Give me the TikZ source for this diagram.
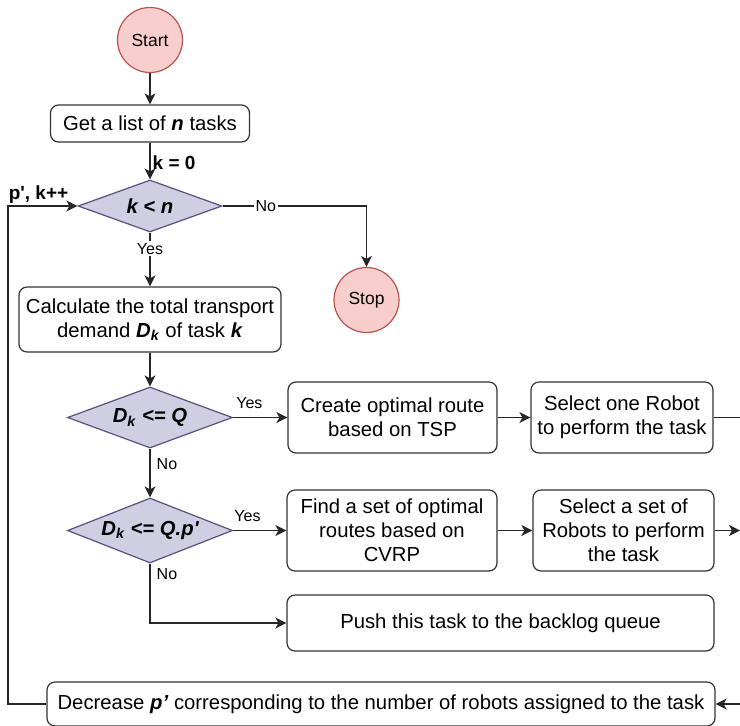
\documentclass[tikz,border=0pt]{standalone}
\usepackage{fontspec}
\setmainfont{Liberation Sans}
\usetikzlibrary{shapes.geometric,arrows.meta}

\definecolor{termfill}{HTML}{F8CECC}
\definecolor{termdraw}{HTML}{B85450}
\definecolor{decfill}{HTML}{D0CEE2}
\definecolor{decdraw}{HTML}{56517E}

\begin{document}
\begin{tikzpicture}[
  x = 0.5pt, y = -0.5pt,
  every node/.style = {font = \fontsize{10.15}{12}\selectfont},
  terminal/.style = {circle, draw = termdraw, fill = termfill, line width = 0.6pt,
                     minimum size = 32.5pt, inner sep = 0pt, font = \fontsize{8.75}{10}\selectfont},
  process/.style = {draw = black!80, rounded corners = 4pt, line width = 0.6pt,
                    align = center, inner sep = 0pt},
  decision/.style = {diamond, aspect = 2.6, draw = decdraw, fill = decfill, line width = 0.6pt,
                     inner sep = 0pt, font = \fontsize{10.15}{12}\selectfont\bfseries\itshape},
  flow/.style = {draw = black!85, line width = 0.7pt,
                 -{Stealth[length = 5.5pt, width = 5.5pt, inset = 1.5pt]}},
  answer/.style = {font = \fontsize{8}{9}\selectfont, inner sep = 1pt},
  counter/.style = {font = \fontsize{9.5}{11}\selectfont\bfseries, inner sep = 1pt},
  ]
  \useasboundingbox (0, 0) rectangle (740, 725);

  \node[terminal] (start) at (150, 40) {Start};
  \node[process, minimum width = 99.5pt, minimum height = 18.5pt] (tasks) at (150, 123.5)
    {Get a list of \textbf{\textit{n}} tasks};
  \node[decision, minimum width = 72pt, minimum height = 26pt] (kn) at (150, 206) {k < n};
  \node[terminal] (stop) at (366.5, 300) {Stop};
  \node[process, minimum width = 131pt, minimum height = 32.5pt] (demand) at (150, 319.5)
    {Calculate the total transport\\demand \textbf{\textit{D\textsubscript{k}}} of task \textbf{\textit{k}}};
  \node[decision, minimum width = 82.5pt, minimum height = 30.5pt] (small) at (150, 417.5)
    {D\textsubscript{k} <= Q};
  \node[process, minimum width = 104.5pt, minimum height = 35.5pt] (tsp) at (392.5, 417.5)
    {Create optimal route\\based on TSP};
  \node[process, minimum width = 91pt, minimum height = 35.5pt] (one) at (622, 417.5)
    {Select one Robot\\to perform the task};
  \node[decision, minimum width = 82.5pt, minimum height = 32.5pt] (large) at (150, 530.5)
    {D\textsubscript{k} <= Q.p\textquotesingle};
  \node[process, minimum width = 105pt, minimum height = 40.5pt] (cvrp) at (392, 530.5)
    {Find a set of optimal\\routes based on\\CVRP};
  \node[process, minimum width = 90.5pt, minimum height = 40.5pt] (group) at (623.5, 530.5)
    {Select a set of\\Robots to perform\\the task};
  \node[process, minimum width = 213.5pt, minimum height = 28pt] (backlog) at (500.5, 623)
    {Push this task to the backlog queue};
  \node[process, minimum width = 334pt, minimum height = 22pt] (update) at (381, 704)
    {Decrease \textbf{\textit{p'}} corresponding to the number of robots assigned to the task};

  \coordinate (loop) at (8, 206);
  \coordinate (out1) at (740, 417.5);
  \coordinate (out2) at (740, 530.5);
  \coordinate (in3) at (740, 704);

  \draw[flow] (start) -- (tasks);
  \draw[flow] (tasks) -- node[counter, right, pos = 0.55] {k = 0} (kn);
  \draw[flow] (kn) -| node[answer, fill = white, pos = 0.15] {No} (stop);
  \draw[flow] (kn) -- node[answer, fill = white, pos = 0.3] {Yes} (demand);
  \draw[flow] (demand) -- (small);
  \draw[flow] (small) -- node[answer, above = 3pt, pos = 0.3] {Yes} (tsp);
  \draw[flow] (tsp) -- (one);
  \draw[draw = black!85, line width = 0.7pt] (one) -- (out1);
  \draw[flow] (small) -- node[answer, right = 2pt, pos = 0.32] {No} (large);
  \draw[flow] (large) -- node[answer, above = 3pt, pos = 0.27] {Yes} (cvrp);
  \draw[flow] (cvrp) -- (group);
  \draw[flow] (group) -- (out2);
  \draw[flow] (large) |- node[answer, right = 2pt, pos = 0.09] {No} (backlog);
  \draw[flow] (in3) -- (update);
  \draw[flow] (update) -| (loop) -- node[counter, above, pos = 0.44] {p\textquotesingle, k++} (kn);
\end{tikzpicture}
\end{document}
